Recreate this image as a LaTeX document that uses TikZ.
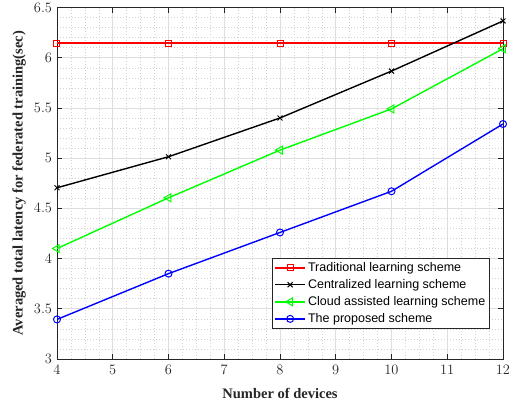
\documentclass[tikz,border=0pt]{standalone}
\usepackage{fontspec}
\setmainfont{Liberation Sans}
\newfontfamily\labfont{Liberation Serif}
\usepackage{pgfplots}
\pgfplotsset{compat=1.18}

\definecolor{axisgray}{RGB}{38,38,38}
\definecolor{gridgray}{RGB}{222,222,222}
\definecolor{cloudgreen}{RGB}{0,255,0}
\definecolor{tradred}{RGB}{255,0,0}

\pgfplotsset{
  curve/.style={line width=1.4pt, mark options={solid, line width=1pt}},
  latplot/.style={
    scale only axis, width=446pt, height=351.5pt,
    xmin=4, xmax=12, ymin=3, ymax=6.5,
    xtick={4,...,12}, ytick={3,3.5,...,6.5},
    minor x tick num=3, minor y tick num=4,
    grid=both,
    major grid style={gridgray, line width=0.7pt},
    minor grid style={gray!35, dash pattern=on 0.8pt off 2.2pt, line width=0.5pt},
    axis line style={axisgray, line width=0.7pt},
    tick style={axisgray, line width=0.6pt},
    major tick length=5pt, minor tick length=0pt,
    tick align=inside,
    ticklabel style={font=\fontsize{13.5}{15}\selectfont, text=axisgray},
    xticklabel style={yshift=-3pt},
    yticklabel style={xshift=-1.5pt},
    label style={font=\labfont\bfseries\fontsize{14.5}{16}\selectfont, text=axisgray},
    xlabel style={at={(axis description cs:0.5,-0.097)}, anchor=center},
    ylabel style={at={(axis description cs:-0.085,0.5)}, anchor=center},
  },
}

\begin{document}
\begin{tikzpicture}[x=1pt,y=1pt]
  \useasboundingbox (0,0) rectangle (514,407);
  \begin{axis}[latplot,
      at={(57pt,48pt)}, anchor=south west,
      xlabel={Number of devices},
      ylabel={Averaged total latency for federated training(sec)},
      legend cell align=left,
      legend style={at={(rel axis cs:0.482,0.287)}, anchor=north west,
        font=\fontsize{12.5}{14}\selectfont, draw=axisgray, line width=0.6pt,
        row sep=2.5pt, inner sep=2pt, nodes={inner sep=2pt}},
      legend image code/.code={
        \draw[mark repeat=2, mark phase=2] plot coordinates {(0pt,0pt) (15pt,0pt) (30pt,0pt)};},
    ]
    % traditional
    \addplot[curve, tradred, line width=1.8pt, mark=square, mark size=3pt]
      coordinates {(4,6.143) (6,6.143) (8,6.143) (10,6.143) (12,6.143)};
    % centralized
    \addplot[curve, black, mark=x, mark size=3.5pt]
      coordinates {(4,4.705) (6,5.014) (8,5.40) (10,5.867) (12,6.366)};
    % cloud assisted
    \addplot[curve, cloudgreen, mark=triangle, mark size=4.5pt,
      mark options={solid, rotate=90, line width=1pt}]
      coordinates {(4,4.10) (6,4.605) (8,5.08) (10,5.49) (12,6.09)};
    % proposed
    \addplot[curve, blue, mark=o, mark size=3.5pt]
      coordinates {(4,3.394) (6,3.85) (8,4.26) (10,4.67) (12,5.34)};
    \legend{Traditional learning scheme, Centralized learning scheme,
      Cloud assisted learning scheme, The proposed scheme}
  \end{axis}
\end{tikzpicture}
\end{document}
